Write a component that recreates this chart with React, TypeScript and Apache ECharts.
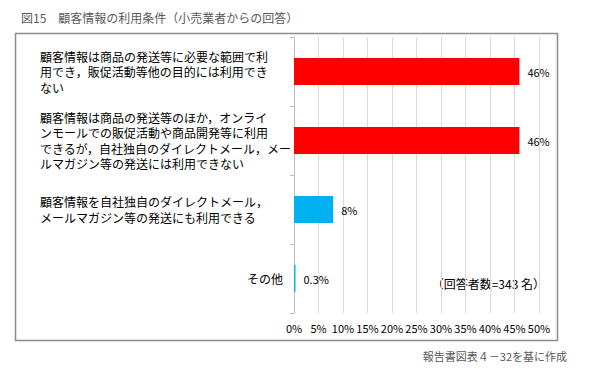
import React, { useEffect, useRef } from "react";
import * as echarts from "echarts";

const categories = [
  "顧客情報は商品の発送等に必要な範囲で利\n用でき，販促活動等他の目的には利用でき\nない",
  "顧客情報は商品の発送等のほか，オンライ\nンモールでの販促活動や商品開発等に利用\nできるが，自社独自のダイレクトメール，メー\nルマガジン等の発送には利用できない",
  "顧客情報を自社独自のダイレクトメール，\nメールマガジン等の発送にも利用できる",
  "その他",
];
const values = [46, 46, 8, 0.3];
const valueLabels = ["46%", "46%", "8%", "0.3%"];
const barColors = ["#FF0000", "#FF0000", "#00B0F0", "#00B0F0"];
const xTicks = { min: 0, max: 50, interval: 5 };
const title = "図15　顧客情報の利用条件（小売業者からの回答）";
const note = "（回答者数=343 名）";
const source = "報告書図表４－32を基に作成";

const FONT = '"Noto Sans CJK JP", "Noto Sans", sans-serif';

export default function App() {
  const ref = useRef<HTMLDivElement>(null);
  useEffect(() => {
    if (!ref.current) return;
    const chart = echarts.init(ref.current, undefined, { renderer: "svg" });
    chart.setOption({
      animation: false,
      textStyle: { fontFamily: FONT },
      grid: { left: 294, right: 61, top: 37, bottom: 56, containLabel: false, outerBoundsMode: "none" },
      xAxis: {
        type: "value",
        min: xTicks.min,
        max: xTicks.max,
        interval: xTicks.interval,
        axisLine: { show: false },
        axisTick: { show: false },
        splitLine: { show: true, lineStyle: { color: "#D9D9D9", width: 1 } },
        axisLabel: {
          formatter: (v: number) => v + "%",
          color: "#000",
          fontSize: 11,
          margin: 9,
          fontFamily: FONT,
        },
      },
      yAxis: {
        type: "category",
        inverse: true,
        data: categories,
        axisLine: { show: true, lineStyle: { color: "#BFBFBF", width: 1 } },
        axisTick: { show: true, length: 4, lineStyle: { color: "#BFBFBF" } },
        axisLabel: {
          align: "left",
          margin: 254,
          color: "#000",
          fontSize: 12,
          lineHeight: 15.5,
          fontFamily: FONT,
          formatter: (v: string) => (v.indexOf("\n") < 0 ? "{r|" + v + "}" : v),
          rich: {
            r: {
              width: 243,
              align: "right",
              fontSize: 12,
              color: "#000",
              fontFamily: FONT,
            },
          },
        },
      },
      series: [
        {
          type: "bar",
          barWidth: 27,
          data: values.map((v, i) => ({
            value: v,
            itemStyle: { color: barColors[i] },
          })),
          label: {
            show: true,
            position: "right",
            distance: 8,
            formatter: (p: any) => valueLabels[p.dataIndex],
            color: "#000",
            fontSize: 11,
            fontFamily: FONT,
          },
        },
      ],
      graphic: [
        {
          type: "rect",
          shape: { x: 15.5, y: 33.5, width: 542, height: 307 },
          style: { fill: "none", stroke: "#8C8C8C", lineWidth: 1.5 },
          silent: true,
        },
        {
          type: "text",
          x: 21,
          y: 17,
          style: {
            text: title,
            fill: "#595959",
            fontSize: 12,
            fontFamily: FONT,
            textVerticalAlign: "middle",
          },
        },
        {
          type: "text",
          x: 545,
          y: 283,
          style: {
            text: note,
            fill: "#000",
            fontSize: 12,
            fontFamily: FONT,
            textAlign: "right",
            textVerticalAlign: "middle",
          },
        },
        {
          type: "text",
          x: 567,
          y: 356,
          style: {
            text: source,
            fill: "#595959",
            fontSize: 11,
            fontFamily: FONT,
            textAlign: "right",
            textVerticalAlign: "middle",
          },
        },
      ],
    });
    return () => chart.dispose();
  }, []);
  return <div ref={ref} style={{ width: 600, height: 369, position: "absolute", left: 0, top: 0, background: "#fff" }} />;
}
